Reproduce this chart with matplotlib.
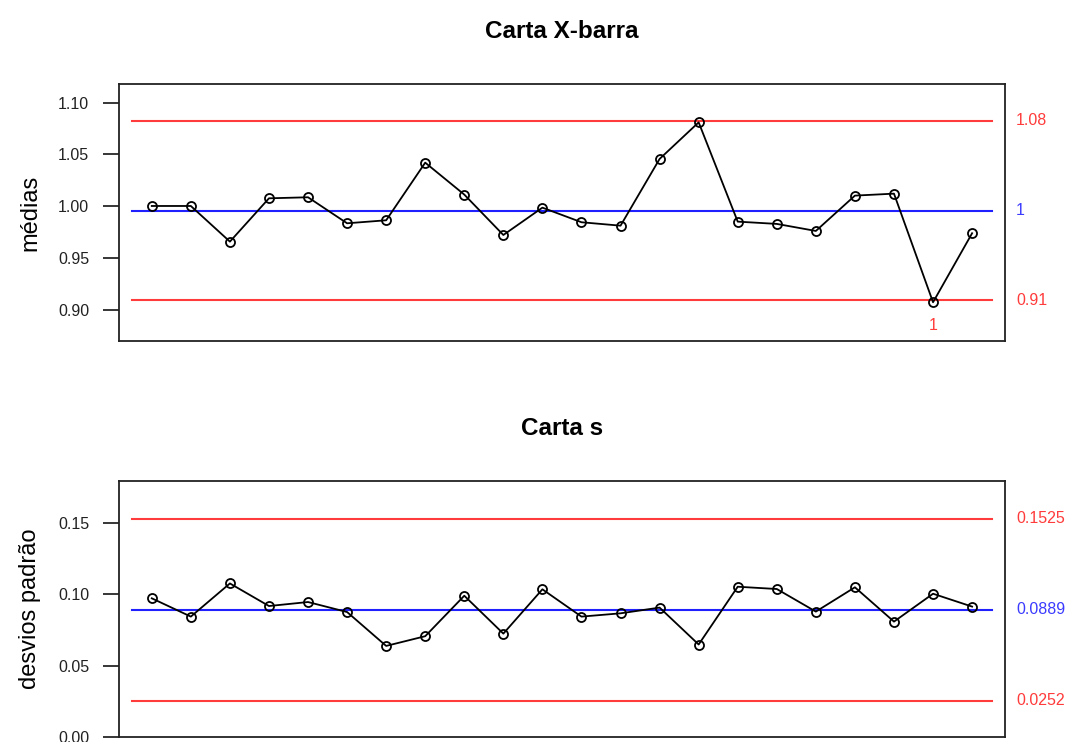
import matplotlib.pyplot as plt
from matplotlib.transforms import blended_transform_factory

plt.rcParams['font.family'] = ['Liberation Sans', 'DejaVu Sans']

# subgroup means (Carta X-barra)
medias = [1.0003, 1.0003, 0.9659, 1.0077, 1.0087, 0.9836, 0.9865, 1.0421, 1.0113, 0.9723,
          0.9987, 0.9846, 0.9813, 1.0457, 1.0810, 0.9852, 0.9830, 0.9762, 1.0103, 1.0122,
          0.9074, 0.9740]
# subgroup standard deviations (Carta s)
desvios = [0.0970, 0.0842, 0.1074, 0.0916, 0.0944, 0.0874, 0.0637, 0.0705, 0.0988, 0.0723,
           0.1033, 0.0842, 0.0865, 0.0905, 0.0647, 0.1051, 0.1035, 0.0877, 0.1047, 0.0807,
           0.1002, 0.0912]

xbar_lcl, xbar_cl, xbar_ucl = 0.9093, 0.9955, 1.0826
xbar_lim_labels = ['0.91', '1', '1.08']
s_lcl, s_cl, s_ucl = 0.0252, 0.0889, 0.1525
s_lim_labels = ['0.0252', '0.0889', '0.1525']

# points flagged by rule 1 (index, label)
xbar_flags = [(21, '1')]

xbar_ticks = [0.90, 0.95, 1.00, 1.05, 1.10]
s_ticks = [0.00, 0.05, 0.10, 0.15]

amostras = list(range(1, len(medias) + 1))

fig = plt.figure(figsize=(10.66, 7.42), dpi=100)
ax1 = fig.add_axes([0.1116, 0.5404, 0.8311, 0.3464])
ax2 = fig.add_axes([0.1116, 0.0067, 0.8311, 0.3450])


def carta(ax, valores, lcl, cl, ucl, rotulos, titulo, ylabel, ylim, ticks, fmt):
    x0, x1 = 0.5, len(valores) + 0.5
    ax.plot([x0, x1], [ucl, ucl], color='#ff3b3b', lw=1.5)
    ax.plot([x0, x1], [lcl, lcl], color='#ff3b3b', lw=1.5)
    ax.plot([x0, x1], [cl, cl], color='#2020ff', lw=1.5)
    ax.plot(amostras, valores, color='black', lw=1.3, marker='o', markersize=6.5,
            markerfacecolor='none', markeredgecolor='black', markeredgewidth=1.3)

    trans = blended_transform_factory(ax.transAxes, ax.transData)
    cores = ['#ff3b3b', '#3b3bff', '#ff3b3b']
    for val, txt, cor in zip([lcl, cl, ucl], rotulos, cores):
        ax.text(1.0124, val, txt, transform=trans, color=cor, fontsize=11.5,
                ha='left', va='center')

    ax.set_xlim(0.16, len(valores) + 0.84)
    ax.set_ylim(*ylim)
    ax.set_xticks([])
    ax.set_yticks(ticks)
    ax.set_yticklabels([fmt.format(t) for t in ticks])
    ax.tick_params(axis='y', length=11.5, width=1.1, pad=10, labelsize=11.5,
                   labelcolor='#222222')
    for sp in ax.spines.values():
        sp.set_linewidth(1.3)
        sp.set_color('#222222')
    ax.set_title(titulo, fontsize=17.5, fontweight='bold', pad=33)
    ax.set_ylabel(ylabel, fontsize=17, labelpad=12)


carta(ax1, medias, xbar_lcl, xbar_cl, xbar_ucl, xbar_lim_labels, 'Carta X-barra',
      'médias', (0.870, 1.118), xbar_ticks, '{:.2f}')
for i, txt in xbar_flags:
    ax1.annotate(txt, (amostras[i - 1], medias[i - 1]), xytext=(0, -17),
                 textcoords='offset points', ha='center', va='center',
                 color='#ff3b3b', fontsize=11.5)

carta(ax2, desvios, s_lcl, s_cl, s_ucl, s_lim_labels, 'Carta s',
      'desvios padrão', (0.0, 0.179), s_ticks, '{:.2f}')

plt.savefig('out.png', dpi=100)
